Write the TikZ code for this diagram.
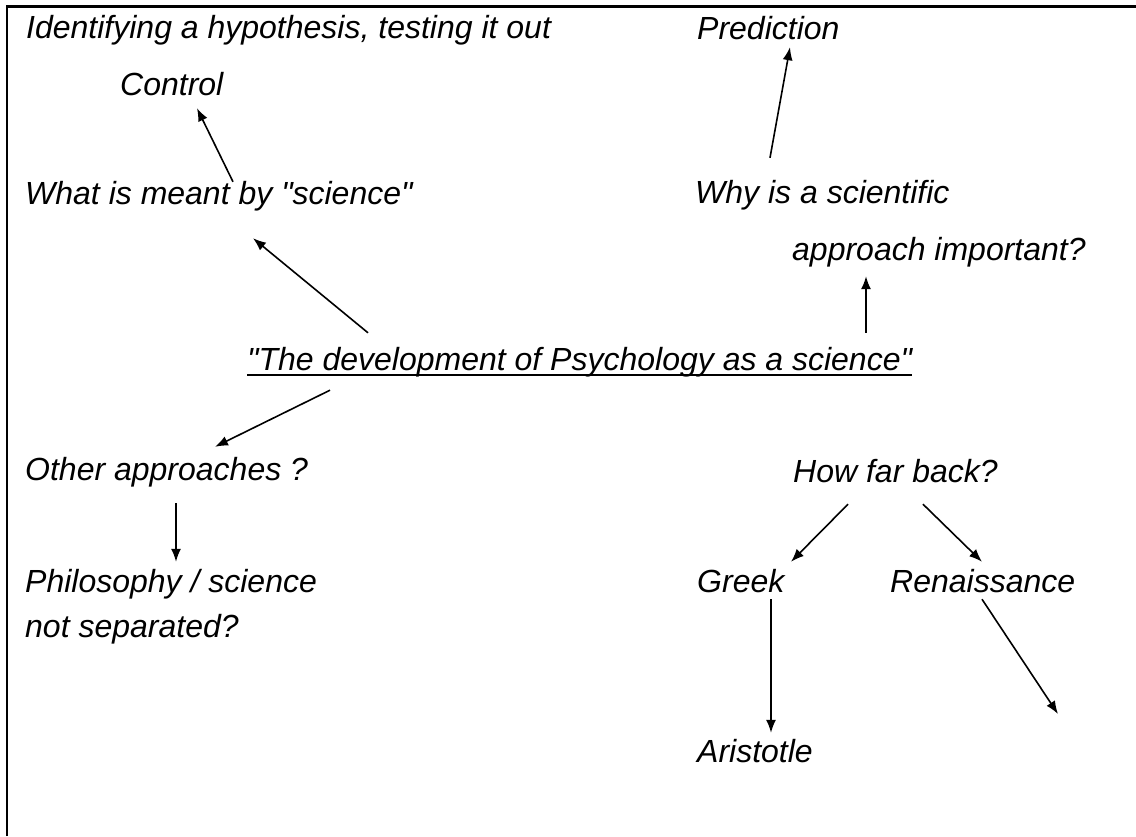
\documentclass[tikz,border=0pt]{standalone}
\usepackage{fontspec}
\setmainfont{Liberation Sans}
\usetikzlibrary{positioning, arrows.meta}
\tikzset{
  txt/.style={anchor=base west, inner sep=0pt, text height=23pt, text depth=7pt,
    font=\fontsize{32pt}{38pt}\selectfont\itshape},
  edge/.style={-{Latex[length=13pt,width=10pt]}, line width=1.6pt},
}

\begin{document}
\begin{tikzpicture}[x=1pt, y=-1pt]
	\useasboundingbox (0,0) rectangle (1136,836);
	\draw[line width=2.2pt] (7,836) -- (7,6.5) -- (1136,6.5);

	\node[txt] (hyp) at (26,38) {Identifying a hypothesis, testing it out};
	\node[txt] (ctl) at (120,95) {Control};
	\node[txt] (pred) at (697,39) {Prediction};
	\node[txt] (what) at (25,204) {What is meant by \textquotedbl science\textquotedbl};
	\node[txt] (why) at (695,203) {Why is a scientific};
	\node[txt] (appr) at (792,260) {approach important?};
	\node[txt] (dev) at (247,370) {\textquotedbl The development of Psychology as a science\textquotedbl};
	\node[txt] (other) at (25,480) {Other approaches ?};
	\node[txt] (phil) at (25,592) {Philosophy / science};
	\node[txt] (nsep) at (25,637) {not separated?};
	\node[txt] (far) at (793,482) {How far back?};
	\node[txt] (greek) at (697,592) {Greek};
	\node[txt] (ren) at (890,592) {Renaissance};
	\node[txt] (ari) at (697,762) {Aristotle};
	\coordinate (open) at (1058,714);

	\draw[line width=2.5pt] ([yshift=-5pt]dev.base west) -- ([yshift=-5pt]dev.base east);

	\draw[edge] ([xshift=208pt,yshift=-1pt]what.north west) -- ([xshift=77pt,yshift=-6pt]ctl.south west);
	\draw[edge] ([xshift=121pt,yshift=14pt]dev.north west) -- ([xshift=228pt,yshift=-27pt]what.south west);
	\draw[edge] ([xshift=75pt,yshift=22pt]why.north west) -- ([xshift=93pt,yshift=-1pt]pred.south west);
	\draw[edge] ([xshift=619pt,yshift=14pt]dev.north west) -- ([xshift=74pt,yshift=-9pt]appr.south west);
	\draw[edge] ([xshift=83pt,yshift=-13pt]dev.south west) -- ([xshift=190pt,yshift=10pt]other.north west);
	\draw[edge] ([xshift=151pt,yshift=-16pt]other.south west) -- ([xshift=151pt,yshift=7pt]phil.north west);
	\draw[edge] ([xshift=55pt,yshift=-15pt]far.south west) -- ([xshift=94pt,yshift=7pt]greek.north west);
	\draw[edge] ([xshift=130pt,yshift=-15pt]far.south west) -- ([xshift=92pt,yshift=7pt]ren.north west);
	\draw[edge] ([xshift=74pt]greek.south west) -- ([xshift=74pt,yshift=6pt]ari.north west);
	\draw[edge] ([xshift=92pt]ren.south west) -- (open);
\end{tikzpicture}
\end{document}
